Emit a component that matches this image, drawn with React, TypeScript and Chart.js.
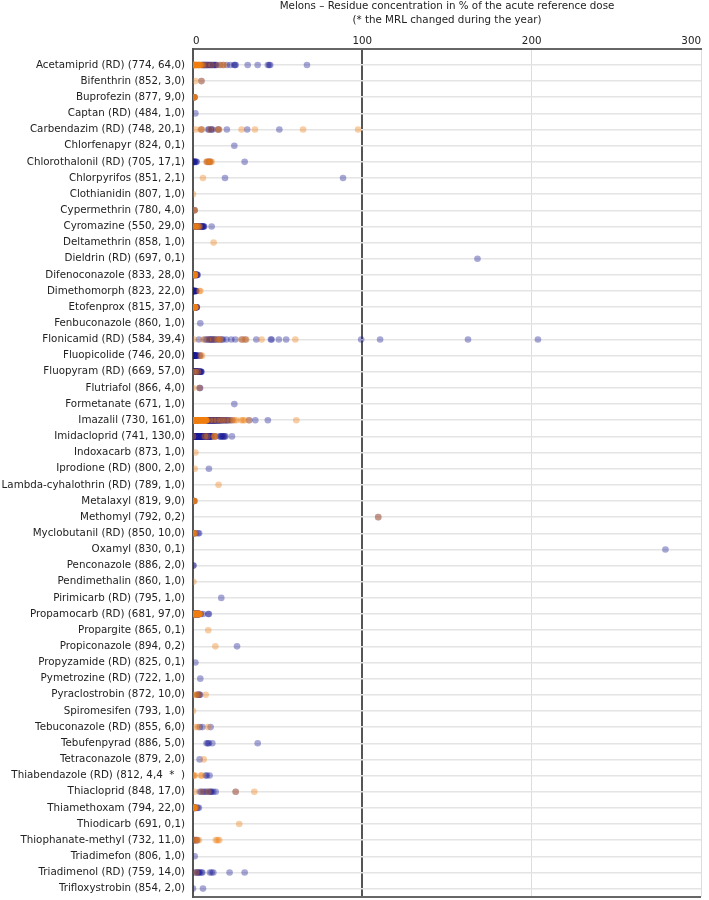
import React, { useEffect, useRef } from 'react';
import { Chart, registerables } from 'chart.js';

Chart.register(...registerables);

const titleLines = [
  'Melons – Residue concentration in % of the acute reference dose',
  '(* the MRL changed during the year)',
];

const xTicks = [0, 100, 200, 300];

const categories = [
  'Acetamiprid (RD) (774, 64,0)',
  'Bifenthrin (852, 3,0)',
  'Buprofezin (877, 9,0)',
  'Captan (RD) (484, 1,0)',
  'Carbendazim (RD) (748, 20,1)',
  'Chlorfenapyr (824, 0,1)',
  'Chlorothalonil (RD) (705, 17,1)',
  'Chlorpyrifos (851, 2,1)',
  'Clothianidin (807, 1,0)',
  'Cypermethrin (780, 4,0)',
  'Cyromazine (550, 29,0)',
  'Deltamethrin (858, 1,0)',
  'Dieldrin (RD) (697, 0,1)',
  'Difenoconazole (833, 28,0)',
  'Dimethomorph (823, 22,0)',
  'Etofenprox (815, 37,0)',
  'Fenbuconazole (860, 1,0)',
  'Flonicamid (RD) (584, 39,4)',
  'Fluopicolide (746, 20,0)',
  'Fluopyram (RD) (669, 57,0)',
  'Flutriafol (866, 4,0)',
  'Formetanate (671, 1,0)',
  'Imazalil (730, 161,0)',
  'Imidacloprid (741, 130,0)',
  'Indoxacarb (873, 1,0)',
  'Iprodione (RD) (800, 2,0)',
  'Lambda-cyhalothrin (RD) (789, 1,0)',
  'Metalaxyl (819, 9,0)',
  'Methomyl (792, 0,2)',
  'Myclobutanil (RD) (850, 10,0)',
  'Oxamyl (830, 0,1)',
  'Penconazole (886, 2,0)',
  'Pendimethalin (860, 1,0)',
  'Pirimicarb (RD) (795, 1,0)',
  'Propamocarb (RD) (681, 97,0)',
  'Propargite (865, 0,1)',
  'Propiconazole (894, 0,2)',
  'Propyzamide (RD) (825, 0,1)',
  'Pymetrozine (RD) (722, 1,0)',
  'Pyraclostrobin (872, 10,0)',
  'Spiromesifen (793, 1,0)',
  'Tebuconazole (RD) (855, 6,0)',
  'Tebufenpyrad (886, 5,0)',
  'Tetraconazole (879, 2,0)',
  'Thiabendazole (RD) (812, 4,4  *  )',
  'Thiacloprid (848, 17,0)',
  'Thiamethoxam (794, 22,0)',
  'Thiodicarb (691, 0,1)',
  'Thiophanate-methyl (732, 11,0)',
  'Triadimefon (806, 1,0)',
  'Triadimenol (RD) (759, 14,0)',
  'Trifloxystrobin (854, 2,0)',
];

// orange series, one list per category (same order as categories)
const orangeValues: number[][] = [
  [0, 0.2, 0.4, 0.5, 0.7, 0.9, 1, 1.2, 1.4, 1.6, 1.8, 2, 2.2, 2.4, 2.7, 3, 3.3, 3.6, 4, 4.3, 4.7, 5, 6, 8, 11, 15, 17.5, 18.2],
  [1.5, 5],
  [0.2, 0.5, 0.8, 1, 0.4],
  [],
  [1.6, 4.5, 5.2, 10, 14.5, 15.5, 28.7, 36.6, 65, 97.5],
  [],
  [8, 8.2, 9, 10, 10.5, 11],
  [5.9],
  [0],
  [0.6, 0.9],
  [0.3, 0.9, 1.5, 2.1, 2.7, 3.3, 3.9, 1.2],
  [12.2],
  [],
  [0, 0.1, 0.2, 0.3, 0.4, 0.5, 0.6, 0.7, 0.8, 0.9, 1, 1.1, 1.2, 1.4],
  [3.8, 4.3],
  [0, 0.1, 0.2, 0.3, 0.4, 0.5, 0.6, 0.7, 0.8, 0.9, 1, 1.1, 1.2, 1.3, 1.4, 1.5, 0.35, 0.75],
  [],
  [0.4, 6, 9, 12, 14.5, 15.5, 16.2, 28.5, 30, 31.5, 40.5, 60.4],
  [5.3, 4.6],
  [0.2, 1.5, 3],
  [0, 3.8],
  [],
  [
    0, 0.05, 0.1, 0.15, 0.2, 0.25, 0.3, 0.35, 0.4, 0.5,
    0.6, 0.7, 0.8, 0.9, 1, 1.1, 1.2, 1.3, 1.4, 1.5,
    1.6, 1.7, 1.8, 1.9, 2, 2.1, 2.2, 2.3, 2.4, 2.5,
    2.6, 2.8, 3, 3.1, 3.2, 3.4, 3.5, 3.6, 3.8, 4,
    4.1, 4.2, 4.4, 4.5, 4.6, 4.8, 5, 5.2, 5.4, 5.6,
    5.8, 6, 6.2, 6.4, 6.6, 6.8, 7, 7.2, 7.5, 7.8,
    8, 10, 12, 14, 16, 6.1, 6.5, 6.9, 7.1, 7.4,
    7.7, 7.9, 17.5, 19.5, 21.6, 0.55, 1.05, 1.55, 2.15, 23.6,
    24.6, 25.6, 28.5, 29.5, 30.5, 33, 61,
    0.45, 0.95, 1.45, 2.05, 2.7, 3.3, 4.3, 5.1,
  ],
  [0, 7, 8.5, 12.5, 13, 12.8],
  [1.4],
  [1],
  [15.1],
  [0.1, 0.4, 0.7, 1, 0.5],
  [109.4],
  [0, 0.3, 0.6, 0.9, 1.2],
  [],
  [],
  [0.2],
  [],
  [
    0, 0.1, 0.2, 0.3, 0.4, 0.5, 0.6, 0.7, 0.8, 0.9,
    1, 1.1, 1.2, 1.3, 1.4, 1.5, 1.6, 1.7, 1.8, 1.9,
    2, 2.1, 2.2, 2.3, 2.4, 2.5, 2.6, 2.7, 2.8, 2.9,
    3, 3.1, 3.2, 3.3, 3.4, 3.5, 3.6, 3.7, 3.8, 3.9,
    4, 1.05, 1.35, 2.25, 2.75,
  ],
  [9],
  [13.2],
  [],
  [],
  [0, 1.5, 2.5, 3.5, 7.5],
  [0],
  [1.6, 3, 8.8],
  [],
  [6.3],
  [0, 0.6, 1, 4.6, 5.2],
  [1, 5, 9, 25.2, 36.2],
  [0, 0.1, 0.2, 0.3, 0.4, 0.5, 0.6, 0.8, 1, 1.2, 1.4, 1.6],
  [27.3],
  [0.5, 1.5, 2.5, 3.5, 13.5, 14.5, 15.5],
  [],
  [2],
  [],
];

// blue series, one list per category (same order as categories)
const blueValues: number[][] = [
  [3.5, 5.2, 5.6, 6, 6.3, 6.6, 7, 7.3, 7.6, 8, 8.4, 8.8, 9.2, 9.6, 10, 10.5, 11, 11.5, 12, 12.5, 13, 13.5, 14, 16, 17.8, 20, 22, 24.3, 24.8, 25.2, 32.3, 38.2, 44.2, 45, 45.6, 67.3],
  [5],
  [0.1, 0.4, 0.7, 0.9],
  [1.4],
  [5, 9, 9.5, 10.5, 11, 11.5, 14.8, 15.2, 20, 32, 51],
  [24.4],
  [0, 0.3, 0.5, 0.7, 1, 1.3, 1.8, 2.2, 8.5, 9.5, 10, 30.5],
  [18.9, 88.6],
  [],
  [0.7, 1],
  [0.5, 1, 1.5, 2, 2.5, 3, 3.5, 4, 4.5, 5, 5.3, 5.6, 5.8, 6, 6.3, 6.6, 11, 0.8, 1.8, 2.8, 4.2],
  [],
  [168],
  [0, 0.2, 0.4, 0.6, 0.8, 1, 1.2, 1.4, 1.6, 1.8, 2, 2.2, 2.5, 2.7],
  [0, 0.1, 0.2, 0.3, 0.4, 0.5, 0.6, 0.7, 0.8, 0.9, 1, 1.2, 1.4, 1.6, 1.8, 2, 0.05, 0.15, 0.25, 0.35],
  [0.2, 0.5, 0.8, 1.1, 1.4, 1.7, 2, 2.2, 2.3, 1.9, 0.05, 0.15, 0.25, 0.45, 0.65, 0.85, 1.05, 1.25, 0.6],
  [4.3],
  [3.5, 7, 8, 8.8, 9.5, 10, 10.5, 11, 11.5, 12, 12.5, 13, 14, 15, 16, 17, 17.7, 19.7, 22.6, 25, 29, 31, 37.4, 46, 46.4, 50.7, 55, 99.3, 110.5, 162.4, 203.7],
  [0, 0.1, 0.2, 0.4, 0.6, 0.8, 1, 1.2, 1.4, 1.6, 1.8, 2, 2.3, 3.8, 4.1, 0.3, 0.5, 0.7],
  [
    0, 0.1, 0.2, 0.3, 0.4, 0.5, 0.6, 0.7, 0.8, 0.9,
    1, 1.1, 1.2, 1.3, 1.4, 1.5, 1.6, 1.7, 1.8, 1.9,
    2, 2.1, 2.2, 2.3, 2.4, 2.5, 2.6, 2.7, 2.8, 2.9,
    3, 3.2, 3.4, 3.6, 3.8, 4, 4.2, 4.4, 4.6, 4.8,
    5, 0.05, 0.15, 0.35, 0.55, 0.75, 0.95, 1.15, 1.35, 1.55,
    1.75, 1.95, 2.15, 2.35,
  ],
  [3.9, 4.2],
  [24.4],
  [
    3, 6, 8.3, 8.6, 8.9, 9.2, 9.5, 9.8, 10.1, 10.4,
    10.7, 11, 11.3, 11.6, 11.9, 12.2, 12.5, 12.8, 13.1, 13.4,
    13.7, 14, 14.3, 14.6, 14.9, 15.2, 15.5, 15.8, 16.1, 16.4,
    16.7, 17, 17.5, 18, 18.5, 19, 19.5, 20, 20.5, 21,
    22, 23, 33.2, 36.8, 44.2, 9.35, 10.25, 11.15, 12.35, 13.25,
    14.45, 15.35, 8.1, 8.45, 8.75, 9.05, 9.65, 9.95, 10.55, 10.85,
    11.45, 11.75, 12.05, 12.65, 12.95, 13.55,
  ],
  [
    0, 0.1, 0.2, 0.3, 0.4, 0.5, 0.6, 0.7, 0.8, 0.9,
    1, 1.1, 1.2, 1.3, 1.4, 1.5, 1.6, 1.7, 1.8, 1.9,
    2, 2.1, 2.2, 2.3, 2.4, 2.5, 2.6, 2.7, 2.8, 2.9,
    3, 3.15, 3.3, 3.45, 3.6, 3.75, 3.9, 4.05, 4.2, 4.35,
    4.5, 4.65, 4.8, 4.95, 5.1, 5.25, 5.4, 5.55, 5.7, 5.85,
    6, 6.2, 6.4, 6.6, 6.8, 7, 7.2, 7.4, 7.6, 7.8,
    8, 8.2, 8.4, 8.6, 8.8, 9, 9.2, 9.4, 9.6, 9.8,
    10, 10.2, 10.4, 10.6, 10.8, 0.05, 0.15, 0.25, 0.35, 0.45,
    1.05, 1.25, 1.45, 1.65, 1.85, 2.05, 2.45, 2.85, 3.25, 3.85,
    12.6, 13.1, 15.7, 16.2, 16.7, 17.2, 17.7, 18.2, 18.7, 19.2,
    23, 11.2, 4.6, 6.3, 7.1, 0.55, 0.65, 0.75, 0.85, 0.95,
    1.15, 1.35, 1.55, 1.75, 1.95, 2.15, 2.35, 2.55, 2.75, 2.95,
    3.05, 3.55, 3.95, 4.15,
  ],
  [],
  [9.4],
  [],
  [0.2, 0.5, 0.8, 0.3],
  [109.4],
  [0.2, 0.8, 1.5, 3, 3.6],
  [279],
  [0.1, 0.3],
  [],
  [16.7],
  [
    0, 0.2, 0.4, 0.6, 0.8, 1, 1.2, 1.4, 1.6, 1.8,
    2, 2.2, 2.4, 2.6, 2.8, 3, 3.2, 3.4, 3.6, 3.8,
    0.35, 0.85, 4.6, 1.25, 1.75, 2.05, 5.9, 2.55, 9.4, 0.1,
    0.5, 0.9, 1.3, 1.7, 2.1, 2.5, 2.9, 3.3, 3.7, 3.1,
    0.7, 9, 0.15, 0.65, 1.15, 1.55, 1.85, 2.35, 2.75, 3.15,
    3.45, 3.95,
  ],
  [],
  [26],
  [1.4],
  [4.3],
  [2.5, 3, 3.5, 3.8, 4.2],
  [],
  [4, 5.5, 10.4],
  [8, 8.8, 9.4, 11.4, 38.2],
  [3.9],
  [7.5, 8.2, 9.8],
  [4, 5, 6, 7, 8, 9, 10, 10.5, 11, 12, 13.4, 25.2],
  [0.2, 0.4, 0.6, 0.8, 1, 1.2, 1.5, 2, 2.8, 3.5],
  [],
  [0.5, 1, 1.8, 2.4],
  [1],
  [1, 2, 2.5, 3, 3.5, 4, 5, 5.5, 10, 11, 12, 21.6, 30.5],
  [0, 5.9],
];

const ORANGE = 'rgba(240, 125, 15, 0.38)';
const BLUE = 'rgba(25, 25, 150, 0.38)';
const TEXT = '#222222';
const FONT = "'DejaVu Sans', Verdana, sans-serif";
const FONT_SIZE = 10.3;

function toPoints(values: number[][]) {
  const pts: { x: number; y: number }[] = [];
  values.forEach((row, i) => row.forEach((v) => pts.push({ x: v, y: i })));
  return pts;
}

export default function App() {
  const ref = useRef<HTMLCanvasElement>(null);

  useEffect(() => {
    const yTickValues: number[] = [-1];
    categories.forEach((_, i) => yTickValues.push(i));
    yTickValues.push(categories.length - 0.5);

    const chart = new Chart(ref.current as HTMLCanvasElement, {
      type: 'scatter',
      data: {
        datasets: [
          {
            label: 'orange',
            data: toPoints(orangeValues),
            backgroundColor: ORANGE,
            borderWidth: 0,
            pointRadius: 3.3,
            pointHoverRadius: 3.3,
          },
          {
            label: 'blue',
            data: toPoints(blueValues),
            backgroundColor: BLUE,
            borderWidth: 0,
            pointRadius: 3.3,
            pointHoverRadius: 3.3,
          },
        ],
      },
      options: {
        animation: false,
        responsive: false,
        layout: { padding: { top: 0, right: 8, bottom: 3, left: 0 } },
        plugins: {
          legend: { display: false },
          tooltip: { enabled: false },
          title: {
            display: true,
            text: titleLines,
            fullSize: false,
            color: TEXT,
            font: { family: FONT, size: FONT_SIZE, weight: 'normal', lineHeight: 1.3 },
            padding: { top: 0, bottom: 0 },
          },
        },
        scales: {
          x: {
            type: 'linear',
            position: 'top',
            min: 0,
            max: 300,
            afterBuildTicks: (scale: any) => {
              scale.ticks = xTicks.map((v) => ({ value: v }));
            },
            afterFit: (scale: any) => {
              scale.height = 22;
              scale.paddingLeft = 0;
              scale.paddingRight = 0;
            },
            ticks: {
              align: 'inner',
              padding: 1,
              autoSkip: false,
              maxRotation: 0,
              color: TEXT,
              font: { family: FONT, size: FONT_SIZE },
            },
            grid: {
              drawTicks: false,
              color: (ctx: any) => (ctx.tick && ctx.tick.value === 100 ? '#555555' : '#dddddd'),
              lineWidth: (ctx: any) => (ctx.tick && ctx.tick.value === 100 ? 2 : 1),
            },
            border: { display: true, color: '#666666', width: 2 },
          },
          y: {
            type: 'linear',
            reverse: true,
            min: -1,
            max: categories.length - 0.5,
            afterBuildTicks: (scale: any) => {
              scale.ticks = yTickValues.map((v) => ({ value: v }));
            },
            afterFit: (scale: any) => {
              scale.width = 193;
              scale.paddingTop = 0;
              scale.paddingBottom = 0;
            },
            ticks: {
              autoSkip: false,
              padding: 8,
              color: TEXT,
              font: { family: FONT, size: FONT_SIZE },
              callback: (value: any) =>
                Number.isInteger(value) && value >= 0 && value < categories.length ? categories[value] : '',
            },
            grid: {
              drawTicks: false,
              color: (ctx: any) => {
                const v = ctx.tick ? ctx.tick.value : 0;
                return v < 0 || v > categories.length - 1 ? '#666666' : '#e4e4e4';
              },
              lineWidth: (ctx: any) => {
                const v = ctx.tick ? ctx.tick.value : 0;
                return v < 0 || v > categories.length - 1 ? 2 : 1.5;
              },
            },
            border: { display: true, color: '#555555', width: 2 },
          },
        },
      },
    } as any);

    return () => chart.destroy();
  }, []);

  return (
    <div style={{ position: 'absolute', left: 0, top: 0, width: 709, height: 900 }}>
      <canvas ref={ref} width={709} height={900} style={{ display: 'block' }} />
    </div>
  );
}
